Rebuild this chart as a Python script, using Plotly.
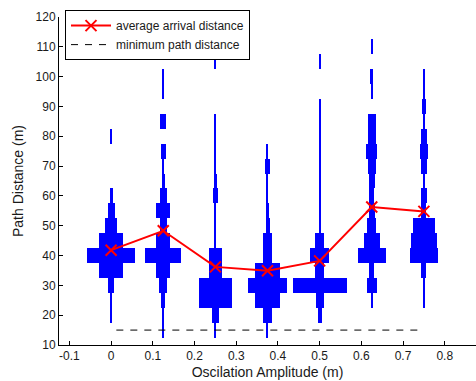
import plotly.graph_objects as go

# ---------------- data ----------------
amplitudes = [0.0, 0.125, 0.25, 0.375, 0.5, 0.625, 0.75]
bin_centers = [15, 20, 25, 30, 35, 40, 45, 50, 55, 60, 65, 70, 75, 80, 85, 90, 95, 100, 105, 110]
T = 0.0013  # single-count bins (thin lines)

# half-widths of histogram bars (x-axis units), one list per amplitude, bins 15..110
hist_0000 = [0, T, T, 0.0072, 0.0296, 0.058, 0.0296, 0.014, 0.0085, 0.0036, 0, 0, 0, T, 0, 0, 0, 0, 0, 0]
hist_0125 = [T, T, 0.0052, 0.0094, 0.0172, 0.0433, 0.017, 0.008, 0.0172, 0.0078, 0.0038, T, 0.0054, 0, 0.0072, 0, T, T, 0, 0]
hist_0250 = [T, 0.009, 0.039, 0.039, 0.016, 0.016, T, T, T, 0.0056, 0.003, T, T, T, T, 0, 0, 0, T, 0]
hist_0375 = [T, 0.01, 0.0288, 0.0468, 0.0288, 0.0104, 0.0104, 0.0048, 0.003, T, T, 0.006, 0.002, 0, 0, 0, 0, 0, 0, 0]
hist_0500 = [0, 0.0048, 0.0094, 0.065, 0.0106, 0.0226, 0.0106, T, T, T, T, T, T, T, T, T, 0, 0, T, 0]
hist_0625 = [0, 0, T, 0.0126, 0.0062, 0.034, 0.0196, 0.011, 0.007, 0.0056, 0.0076, 0.0092, 0.013, 0.0092, 0.0092, 0, T, 0.004, 0, T]
hist_0750 = [0, 0, 0.003, T, 0.006, 0.0337, 0.031, 0.027, 0.006, 0.0068, 0.0025, 0.0068, 0.0105, 0.0068, T, 0.0045, 0.003, 0.003, 0, 0]
histograms = [hist_0000, hist_0125, hist_0250, hist_0375, hist_0500, hist_0625, hist_0750]

avg_distance = [41.8, 48.3, 36.2, 34.9, 38.2, 56.3, 54.8]
min_path_x = [0.0125, 0.74]
min_path_y = [15, 15]

x_ticks = [-0.1, 0, 0.1, 0.2, 0.3, 0.4, 0.5, 0.6, 0.7, 0.8]
x_ticktext = ["-0.1", "0", "0.1", "0.2", "0.3", "0.4", "0.5", "0.6", "0.7", "0.8"]
y_ticks = [10, 20, 30, 40, 50, 60, 70, 80, 90, 100, 110, 120]

# ---------------- figure ----------------
fig = go.Figure()
for amp, hw in zip(amplitudes, histograms):
    ys = [c for c, w in zip(bin_centers, hw) if w > 0]
    ws = [w for w in hw if w > 0]
    fig.add_trace(go.Bar(
        orientation="h", y=ys, x=[2 * w for w in ws], base=[amp - w for w in ws],
        width=5, marker=dict(color="#0000ff", opacity=1, line=dict(width=0)),
        showlegend=False, hoverinfo="skip",
    ))

fig.add_trace(go.Scatter(
    x=amplitudes, y=avg_distance, mode="lines+markers", name="average arrival distance",
    line=dict(color="#ff0000", width=2),
    marker=dict(symbol="x-thin", size=11, color="#ff0000", line=dict(color="#ff0000", width=2)),
))
fig.add_trace(go.Scatter(
    x=min_path_x, y=min_path_y, mode="lines", name="minimum path distance",
    line=dict(color="black", width=1, dash="7px,7px"),
))

font = dict(family="Liberation Sans, Arial, sans-serif", size=12, color="#1a1a1a")
fig.update_layout(
    width=476, height=381,
    margin=dict(l=59, r=0, t=17, b=36),
    paper_bgcolor="white", plot_bgcolor="white",
    barmode="overlay", bargap=0,
    font=font,
    showlegend=True,
    legend=dict(
        x=0.0144, y=1.021, xanchor="left", yanchor="top",
        bgcolor="white", bordercolor="black", borderwidth=1,
        font=dict(family="Liberation Sans, Arial, sans-serif", size=12, color="#1a1a1a"),
        tracegroupgap=0, itemwidth=40,
    ),
    xaxis=dict(
        range=[-0.125, 0.875], tickvals=x_ticks, ticktext=x_ticktext,
        ticks="inside", ticklen=4, tickcolor="black", showline=True, linecolor="black",
        linewidth=1, showgrid=False, zeroline=False, mirror=False,
        title=dict(text="Oscilation Amplitude (m)", standoff=4),
    ),
    yaxis=dict(
        range=[10, 120], tickvals=y_ticks,
        ticks="inside", ticklen=4, tickcolor="black", showline=True, linecolor="black",
        linewidth=1, showgrid=False, zeroline=False, mirror=False,
        title=dict(text="Path Distance (m)", standoff=8),
    ),
)

fig.write_html("out.html")
